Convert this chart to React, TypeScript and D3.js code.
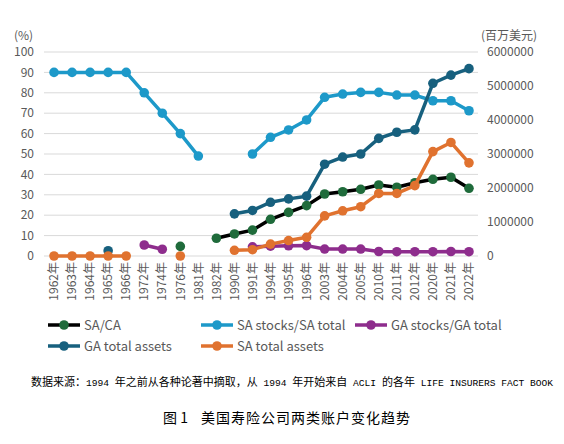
import React from "react";
import * as d3 from "d3";

const years = ["1962年","1963年","1964年","1965年","1966年","1972年","1974年","1976年","1981年","1982年","1990年","1991年","1994年","1995年","1996年","2003年","2004年","2005年","2010年","2011年","2012年","2020年","2021年","2022年"];

// % series (left axis)
const saCa: (number | null)[] = [null,null,null,null,null,null,null,4.7,null,8.7,10.8,12.7,18.0,21.4,24.7,30.4,31.5,32.7,34.8,33.7,35.9,37.6,38.6,33.2];
const saStocks: (number | null)[] = [90,90,90,90,90,80,70,60,49,null,null,50,58.2,61.8,66.7,77.8,79.4,80.2,80.2,78.9,78.9,76.1,76.1,71.2];
const gaStocks: (number | null)[] = [null,null,null,null,null,5.4,3.3,null,null,null,null,4.5,4.8,5.0,5.1,3.4,3.4,3.4,2.2,2.1,2.1,2.1,2.2,2.1];
// million USD series (right axis)
const gaTotal: (number | null)[] = [null,null,null,156000,null,null,null,null,null,null,1240000,1340000,1580000,1680000,1760000,2700000,2910000,3000000,3460000,3640000,3710000,5080000,5320000,5510000];
const saTotal: (number | null)[] = [0,0,0,0,0,null,null,0,null,null,168000,185000,350000,455000,550000,1180000,1330000,1450000,1840000,1840000,2070000,3070000,3340000,2740000];

const leftTicks = [0,10,20,30,40,50,60,70,80,90,100];
const rightTicks = [0,1000000,2000000,3000000,4000000,5000000,6000000];

const series = [
  { name: "SA/CA", values: saCa, axis: "left", line: "#000000", marker: "#1f6b3b" },
  { name: "SA stocks/SA total", values: saStocks, axis: "left", line: "#1d99c9", marker: "#1d99c9" },
  { name: "GA stocks/GA total", values: gaStocks, axis: "left", line: "#8e2d8d", marker: "#8e2d8d" },
  { name: "GA total assets", values: gaTotal, axis: "right", line: "#17607e", marker: "#17607e" },
  { name: "SA total assets", values: saTotal, axis: "right", line: "#e0722f", marker: "#e0722f" },
];

const legendPos = [
  { x: 48, y: 325 },
  { x: 201, y: 325 },
  { x: 355, y: 325 },
  { x: 48, y: 346 },
  { x: 201, y: 346 },
];

const sourceParts: [string, boolean][] = [
  ["数据来源：", true],
  ["1994 ", false],
  ["年之前从各种论著中摘取，从", true],
  [" 1994 ", false],
  ["年开始来自", true],
  [" ACLI ", false],
  ["的各年", true],
  [" LIFE INSURERS FACT BOOK", false],
];

const FONT = "'Noto Sans CJK SC', 'Noto Sans', sans-serif";
const GREY = "#595959";

export default function App() {
  const W = 564, H = 444;
  const x = d3.scaleBand<string>().domain(years).range([45, 478]);
  const yL = d3.scaleLinear().domain([0, 100]).range([256, 52]);
  const yR = d3.scaleLinear().domain([0, 6000000]).range([256, 52]);
  const cx = (i: number) => (x(years[i]) as number) + x.bandwidth() / 2;

  return (
    <svg width={W} height={H} style={{ position: "absolute", left: 0, top: 0, background: "#fff" }}>
      <rect width={W} height={H} fill="#fff" />
      {leftTicks.map((t) => (
        <line key={t} x1={44} x2={478} y1={yL(t)} y2={yL(t)} stroke="#d9d9d9" strokeWidth={1} />
      ))}
      {leftTicks.map((t) => (
        <text key={"l" + t} x={34} y={yL(t)} dy="0.35em" textAnchor="end" fontSize={12} fill={GREY} fontFamily={FONT}>{t}</text>
      ))}
      {rightTicks.map((t) => (
        <text key={"r" + t} x={487} y={yR(t)} dy="0.35em" textAnchor="start" fontSize={12} fill={GREY} fontFamily={FONT}>{t}</text>
      ))}
      <text x={14} y={36} dy="0.35em" fontSize={12} fill={GREY} fontFamily={FONT}>(%)</text>
      <text x={481} y={36} dy="0.35em" fontSize={12} fill={GREY} fontFamily={FONT}>(百万美元)</text>
      {years.map((y, i) => (
        <text key={y} transform={`translate(${cx(i)},262) rotate(-90)`} dy="0.35em" textAnchor="end" fontSize={12} fill={GREY} fontFamily={FONT}>{y}</text>
      ))}
      {series.map((s) => {
        const ys = s.axis === "left" ? yL : yR;
        const line = d3.line<number | null>()
          .defined((d) => d !== null)
          .x((_, i) => cx(i))
          .y((d) => ys(d as number));
        return (
          <g key={s.name}>
            <path d={line(s.values) || ""} fill="none" stroke={s.line} strokeWidth={3.5} strokeLinejoin="round" />
            {s.values.map((v, i) => v === null ? null : (
              <circle key={i} cx={cx(i)} cy={ys(v)} r={4.8} fill={s.marker} />
            ))}
          </g>
        );
      })}
      {series.map((s, k) => (
        <g key={"lg" + s.name}>
          <line x1={legendPos[k].x} x2={legendPos[k].x + 32} y1={legendPos[k].y} y2={legendPos[k].y} stroke={s.line} strokeWidth={3.5} />
          <circle cx={legendPos[k].x + 16} cy={legendPos[k].y} r={4.8} fill={s.marker} />
          <text x={legendPos[k].x + 36} y={legendPos[k].y} dy="0.35em" fontSize={13} fill={GREY} fontFamily={FONT}>{s.name}</text>
        </g>
      ))}
      <text x={31} y={380} dy="0.35em" fill="#000" style={{ whiteSpace: "pre" }}>
        {sourceParts.map(([t, cjk], i) => (
          <tspan key={i} fontSize={cjk ? 11 : 9.6} fontFamily={cjk ? FONT : "'Liberation Mono', monospace"}>{t}</tspan>
        ))}
      </text>
      <text x={163} y={418} dy="0.35em" fontSize={14} fill="#000" fontFamily={FONT}>图 1</text>
      <text x={201} y={418} dy="0.35em" fontSize={14} fill="#000" fontFamily={FONT} letterSpacing={1}>美国寿险公司两类账户变化趋势</text>
    </svg>
  );
}
